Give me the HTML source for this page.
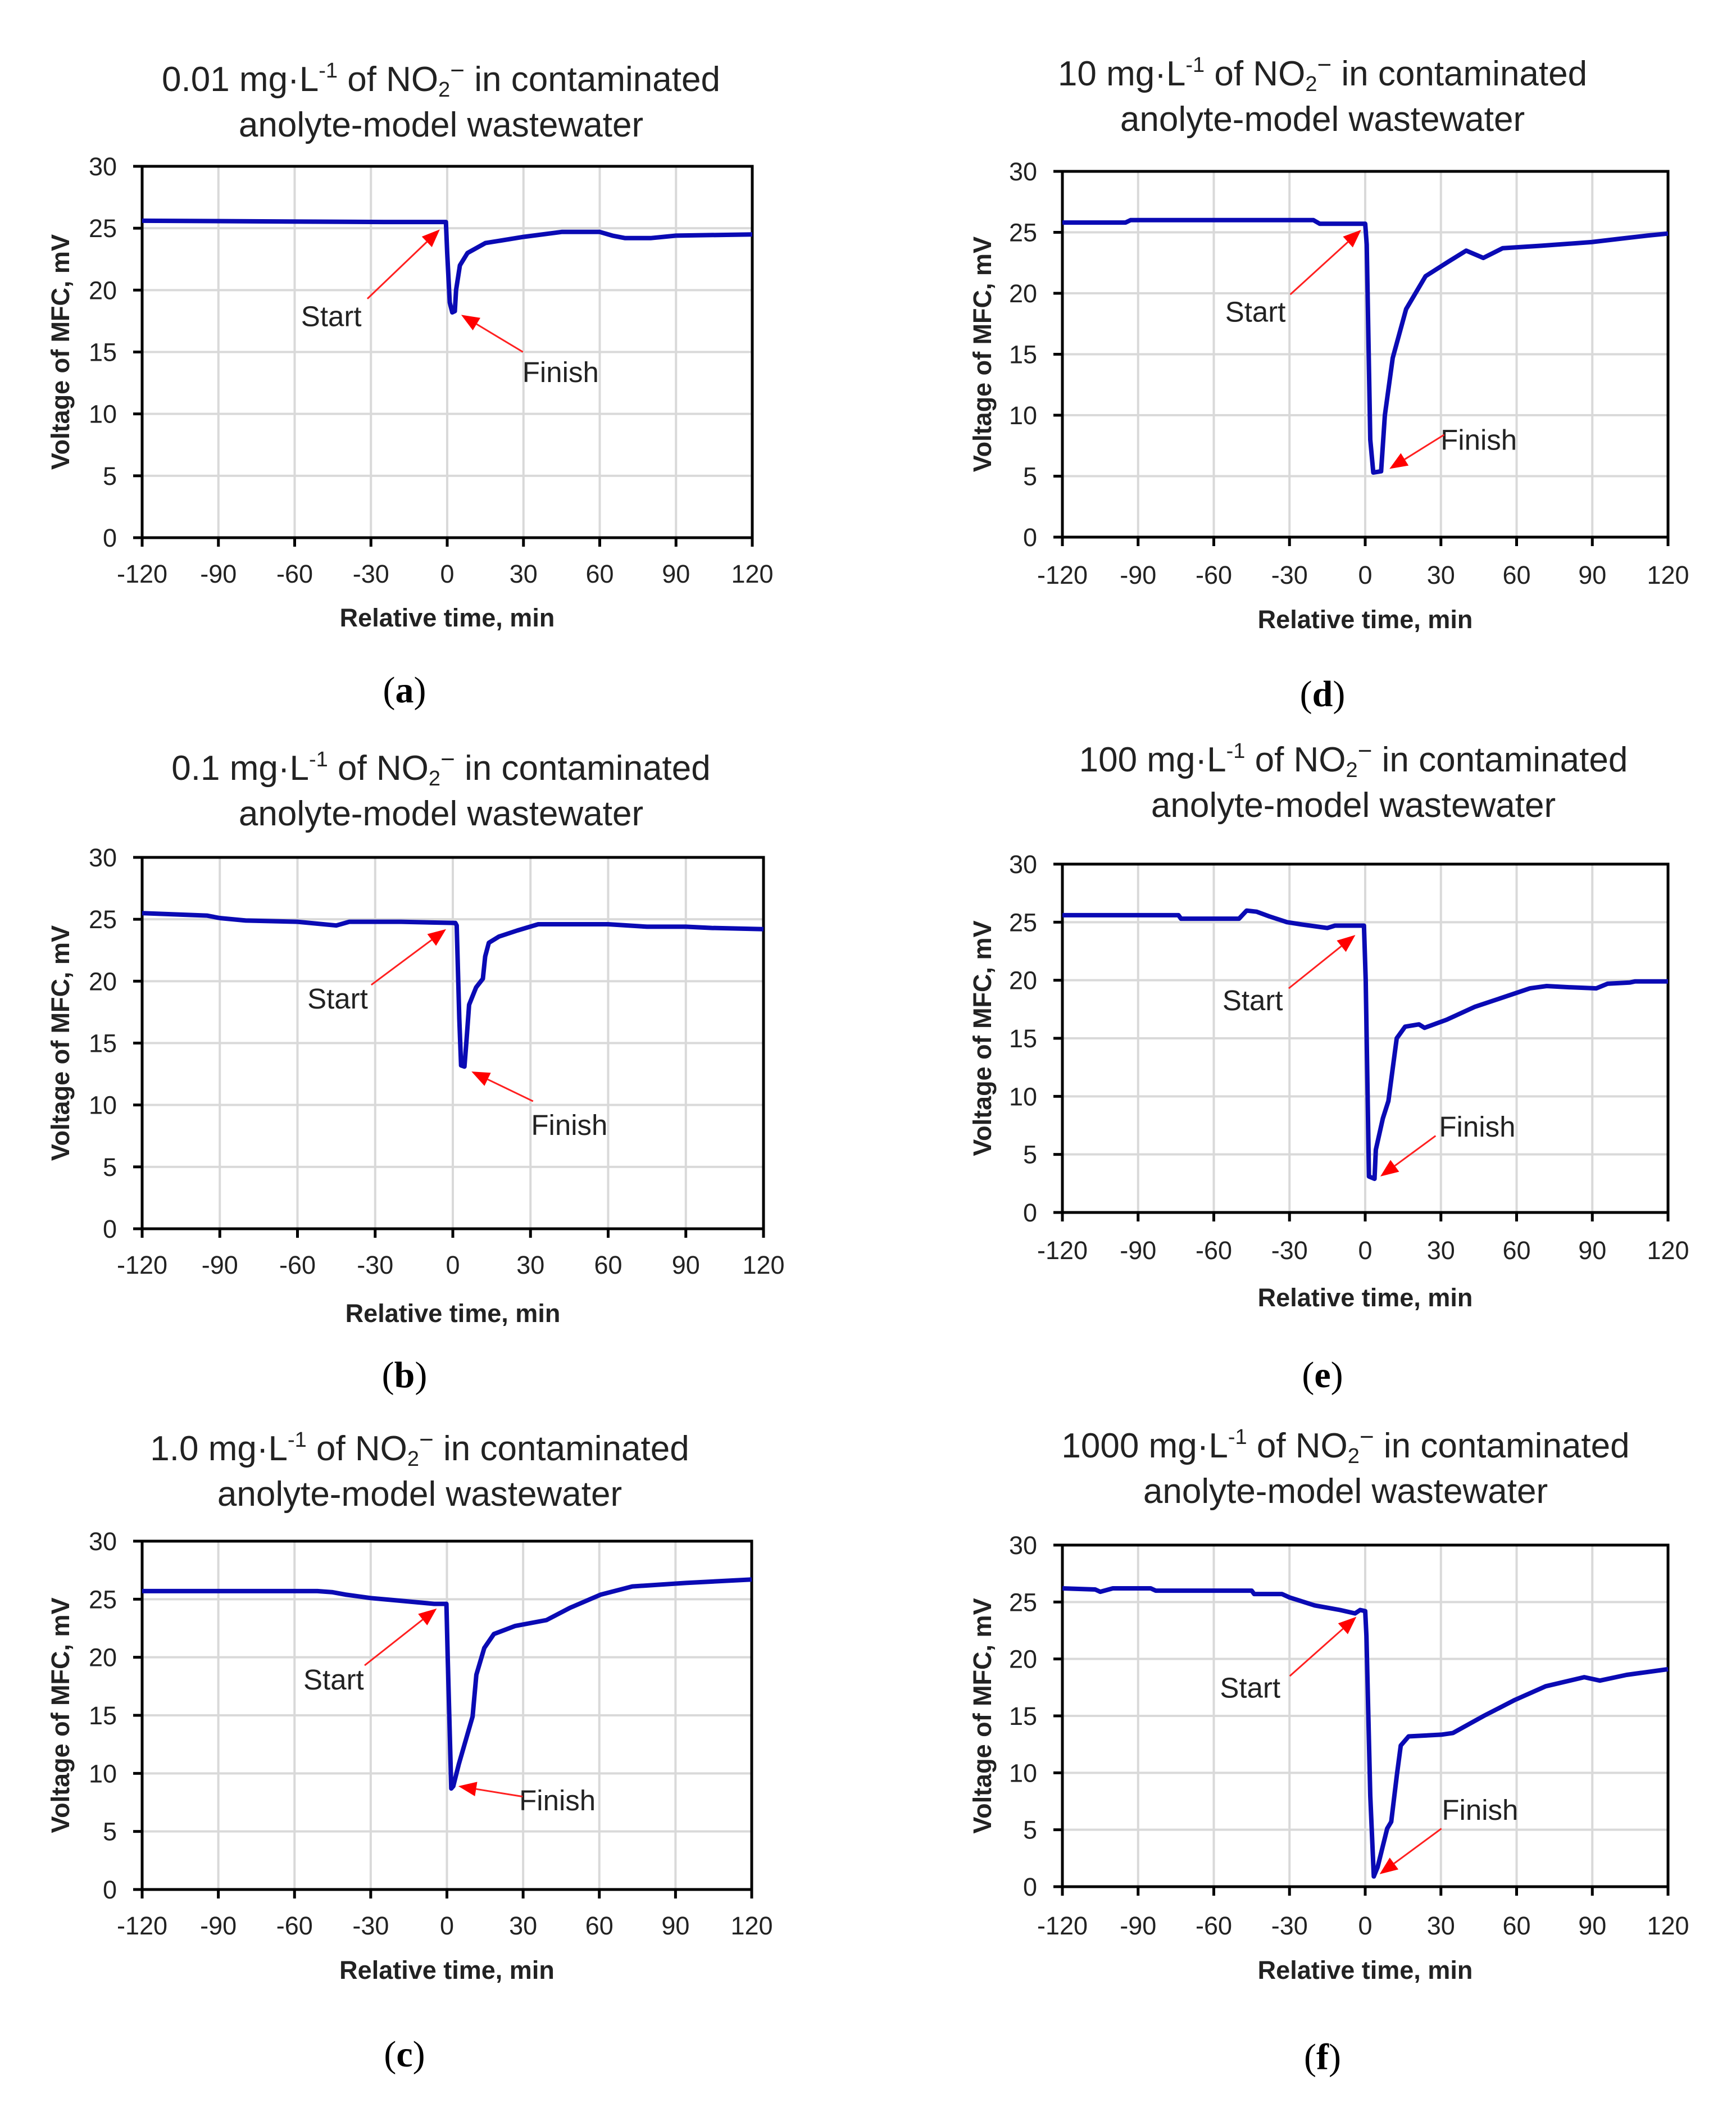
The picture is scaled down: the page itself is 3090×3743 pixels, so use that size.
<!DOCTYPE html>
<html><head><meta charset="utf-8"><style>
html,body{margin:0;padding:0;background:#fff;}
svg{display:block;}
text{font-family:"Liberation Sans",sans-serif;}
</style></head><body>
<svg id="fig" width="3090" height="3743" viewBox="0 0 3090 3743" xmlns="http://www.w3.org/2000/svg"></svg>
<script>
// ---- data (time in min, voltage in mV) ----
const timeA = [-120,-25,-0.5,0,1,2,3,3.5,5,8,15,30,45,60,65,70,80,90,120];
const voltA = [25.6,25.5,25.5,23,19,18.2,18.3,20,22,23,23.8,24.3,24.7,24.7,24.4,24.2,24.2,24.4,24.5];
const timeB = [-120,-95,-90,-80,-60,-45,-40,-20,1,1.5,2.5,3.2,4.5,5.2,6.3,9,11.6,12.5,13.9,17.8,25,33,60,75,90,100,120];
const voltB = [25.5,25.3,25.1,24.9,24.8,24.5,24.8,24.8,24.7,24.5,17,13.2,13.1,15,18.1,19.5,20.2,22,23.1,23.6,24.1,24.6,24.6,24.4,24.4,24.3,24.2];
const timeC = [-120,-51,-45,-40,-30,-20,-5,-0.2,0.3,1.7,2.5,4.7,10.1,11.6,14.7,18.5,26.9,39.2,48.4,60.6,73,94,120];
const voltC = [25.7,25.7,25.6,25.4,25.1,24.9,24.6,24.6,20,8.7,8.9,10.8,14.9,18.5,20.8,22,22.7,23.2,24.25,25.4,26.1,26.4,26.7];
const timeD = [-120,-95,-93,-20.5,-18,0,0.6,2,3.2,6.3,7.8,10.9,16.2,23.9,33,40,46.8,54.5,69.8,89.7,102,112.7,120];
const voltD = [25.8,25.8,26.0,26.0,25.7,25.7,24,8,5.3,5.4,10,14.7,18.7,21.4,22.6,23.5,22.9,23.7,23.9,24.2,24.5,24.75,24.9];
const timeE = [-120,-74,-73,-50,-47,-43,-38,-31,-25,-15,-12,-0.5,0.2,1.5,3.7,4.2,7,9.2,12.5,15.8,21.3,23.5,32.3,43.3,54.3,65.3,71.9,80.7,91.6,96,104.8,107,120];
const voltE = [25.6,25.6,25.3,25.3,26.0,25.9,25.5,25.0,24.8,24.5,24.7,24.7,20,3.1,2.9,5.4,8.1,9.6,15.0,16.0,16.2,15.9,16.6,17.7,18.5,19.3,19.5,19.4,19.3,19.7,19.8,19.9,19.9];
const timeF = [-120,-107,-105,-100,-85,-83,-45,-44,-33,-30,-20,-10,-4,-2,0,0.5,2,3.4,4.9,8.7,10.3,12.6,14.1,17.2,30.2,34.8,47,59.3,71.5,86.8,93,103.6,120];
const voltF = [26.2,26.1,25.9,26.2,26.2,26.0,26.0,25.7,25.7,25.4,24.7,24.3,24.0,24.3,24.2,22,8,0.9,1.7,5.1,5.7,9.9,12.4,13.2,13.35,13.5,15.0,16.4,17.6,18.4,18.1,18.6,19.1];
const xTicks = [-120,-90,-60,-30,0,30,60,90,120];
const yTicks = [0,5,10,15,20,25,30];
const concLabels = ["0.01","10","0.1","100","1.0","1000"];
const panelLetters = ["a","d","b","e","c","f"];
// annotation anchors in data coords: [textT,textV,tailT,tailV,tipT,tipV]
const startA = [-45.6,17.9,-31.4,19.3,-2.9,24.9];
const finishA = [44.6,13.4,29.8,15.0,5.5,18.0];
const startB = [-44.5,18.6,-31.5,19.7,-2.6,24.2];
const finishB = [45,8.4,31,10.3,7.2,12.7];
const startC = [-44.6,18.1,-32.4,19.3,-4,24.2];
const finishC = [43.5,7.7,29.8,8.0,4.5,8.9];
const startD = [-43.5,18.5,-29.7,19.9,-1.6,25.2];
const finishD = [45,8.0,31.3,8.4,9.6,5.6];
const startE = [-44.6,18.3,-30.3,19.3,-3.9,23.9];
const finishE = [44.4,7.4,27.9,6.6,6,3.1];
const startF = [-45.6,17.5,-29.9,18.5,-3.5,23.7];
const finishF = [45.5,6.75,30.2,5.1,5.7,1.1];

// ---- layout ----
const panels = [
 {id:"a",L:253,R:1339,T:296,B:957,tx:785,t1:141,t2:222,xt:1021,xa:1099,lab:1228,lx:720,yt:107,time:timeA,volt:voltA,st:startA,fi:finishA,c:concLabels[0]},
 {id:"d",L:1891,R:2969,T:305,B:956,tx:2354,t1:131,t2:212,xt:1023,xa:1102,lab:1235,lx:2354,yt:1748,time:timeD,volt:voltD,st:startD,fi:finishD,c:concLabels[1]},
 {id:"b",L:253,R:1359,T:1526,B:2187,tx:785,t1:1367,t2:1448,xt:2251,xa:2337,lab:2447,lx:720,yt:107,time:timeB,volt:voltB,st:startB,fi:finishB,c:concLabels[2]},
 {id:"e",L:1891,R:2969,T:1538,B:2158,tx:2409,t1:1352,t2:1433,xt:2225,xa:2309,lab:2447,lx:2354,yt:1748,time:timeE,volt:voltE,st:startE,fi:finishE,c:concLabels[3]},
 {id:"c",L:253,R:1338,T:2743,B:3363,tx:747,t1:2578,t2:2659,xt:3427,xa:3506,lab:3656,lx:720,yt:107,time:timeC,volt:voltC,st:startC,fi:finishC,c:concLabels[4]},
 {id:"f",L:1891,R:2969,T:2750,B:3358,tx:2395,t1:2573,t2:2654,xt:3427,xa:3506,lab:3661,lx:2354,yt:1748,time:timeF,volt:voltF,st:startF,fi:finishF,c:concLabels[5]}
];
const NS="http://www.w3.org/2000/svg";
const fig=document.getElementById('fig');
function mk(tag,attrs,parent){const e=document.createElementNS(NS,tag);for(const k in attrs)e.setAttribute(k,attrs[k]);(parent||fig).appendChild(e);return e;}

panels.forEach((p,i)=>{
  const g=mk('g',{});
  
  
  const X=t=>p.L+(t+120)/240*(p.R-p.L);
  const Y=v=>p.B-v/30*(p.B-p.T);
  // title
  const t1=mk('text',{x:p.tx,y:p.t1+21,'text-anchor':'middle','font-size':62,fill:'#222'},g);
  
  
  t1.innerHTML=p.c+' mg·L<tspan font-size="38" dy="-24">-1</tspan><tspan dy="24"> of NO</tspan><tspan font-size="38" dy="10">2</tspan><tspan font-size="44" dy="-32">−</tspan><tspan dy="22"> in contaminated</tspan>';
  const t2=mk('text',{x:p.tx,y:p.t2+21,'text-anchor':'middle','font-size':62,fill:'#222'},g);
  
  
  t2.textContent='anolyte-model wastewater';
  // grid
  xTicks.forEach(t=>{const l=mk('line',{x1:X(t),x2:X(t),y1:p.T,y2:p.B,stroke:'#d9d9d9','stroke-width':4},g);
    
    });
  yTicks.forEach(v=>{const l=mk('line',{x1:p.L,x2:p.R,y1:Y(v),y2:Y(v),stroke:'#d9d9d9','stroke-width':4},g);
    
    });
  // frame
  const fr=mk('rect',{x:p.L,y:p.T,width:p.R-p.L,height:p.B-p.T,fill:'none',stroke:'#000','stroke-width':5},g);
  
  
  // ticks and labels
  xTicks.forEach(t=>{mk('line',{x1:X(t),x2:X(t),y1:p.B,y2:p.B+16,stroke:'#000','stroke-width':5},g);
    const tx=mk('text',{x:X(t),y:p.xt+16,'text-anchor':'middle','font-size':45,fill:'#222'},g);
    
    
    tx.textContent=t;});
  yTicks.forEach(v=>{mk('line',{x1:p.L-16,x2:p.L,y1:Y(v),y2:Y(v),stroke:'#000','stroke-width':5},g);
    const tx=mk('text',{x:p.L-45,y:Y(v)+16,'text-anchor':'end','font-size':45,fill:'#222'},g);
    
    
    tx.textContent=v;});
  const xa=mk('text',{x:(p.L+p.R)/2,y:p.xa+16,'text-anchor':'middle','font-size':45,'font-weight':'bold',fill:'#222'},g);
  
  
  xa.textContent='Relative time, min';
  const ya=mk('text',{x:0,y:0,'text-anchor':'middle','font-size':45,'font-weight':'bold',fill:'#222',transform:`translate(${p.yt+16},${(p.T+p.B)/2}) rotate(-90)`},g);
  
  
  ya.textContent='Voltage of MFC, mV';
  // series
  const d=p.time.map((t,k)=>(k?'L':'M')+X(t).toFixed(1)+' '+Y(p.volt[k]).toFixed(1)).join(' ');
  const ln=mk('path',{d:d,fill:'none',stroke:'#0a0ab4','stroke-width':8,'stroke-linejoin':'round'},g);
  
  
  // annotations
  [[p.st,'Start'],[p.fi,'Finish']].forEach(([a,label])=>{
    const tx=mk('text',{x:X(a[0]),y:Y(a[1])+18,'text-anchor':'middle','font-size':51,fill:'#222'},g);
    
    
    tx.textContent=label;
    const x1=X(a[2]),y1=Y(a[3]),x2=X(a[4]),y2=Y(a[5]);
    const ang=Math.atan2(y2-y1,x2-x1),hl=32,hw=13;
    const bx=x2-hl*Math.cos(ang),by=y2-hl*Math.sin(ang);
    const ar=mk('line',{x1:x1,y1:y1,x2:bx,y2:by,stroke:'#ff2020','stroke-width':3},g);
    
    
    const px=-Math.sin(ang)*hw,py=Math.cos(ang)*hw;
    const hd=mk('polygon',{points:`${x2},${y2} ${bx+px},${by+py} ${bx-px},${by-py}`,fill:'#ff0000'},g);
    
    
  });
  // panel label
  const pl=mk('text',{x:p.lx,y:p.lab+22,'text-anchor':'middle','font-size':66,fill:'#000',style:'font-family:"Liberation Serif",serif'},g);
  
  
  pl.innerHTML='(<tspan font-weight="bold">'+panelLetters[i]+'</tspan>)';
});
</script>
</body></html>
